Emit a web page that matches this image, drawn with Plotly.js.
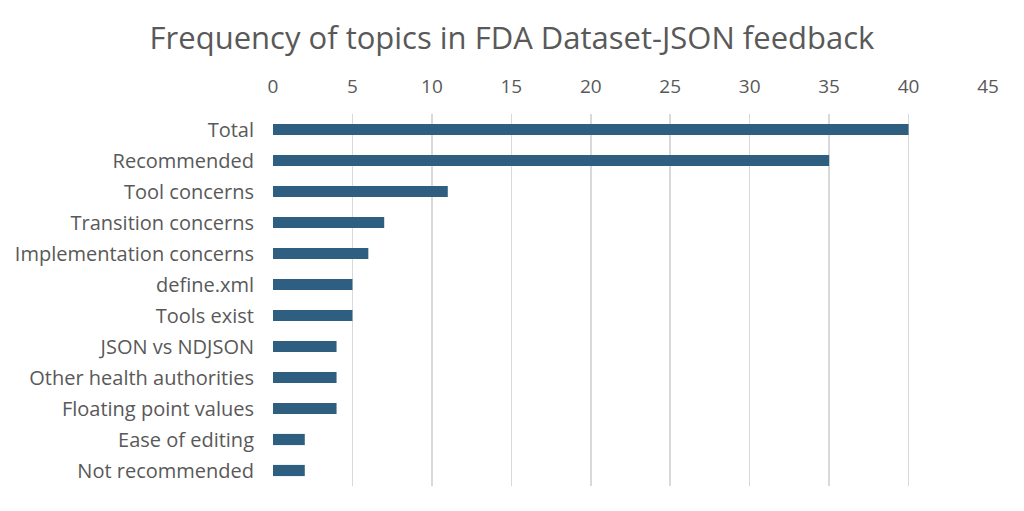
<!DOCTYPE html>
<html>
<head>
<meta charset="utf-8">
<script src="https://cdn.plot.ly/plotly-3.0.1.min.js"></script>
<style>
  html, body { margin: 0; padding: 0; background: #ffffff; }
  #chart { width: 1024px; height: 511px; }
</style>
</head>
<body>
<div id="chart"></div>
<script>
// Topics in the feedback, top to bottom as drawn
const topics = [
  'Total',
  'Recommended',
  'Tool concerns',
  'Transition concerns',
  'Implementation concerns',
  'define.xml',
  'Tools exist',
  'JSON vs NDJSON',
  'Other health authorities',
  'Floating point values',
  'Ease of editing',
  'Not recommended',
];
const counts = [40, 35, 11, 7, 6, 5, 5, 4, 4, 4, 2, 2];
const tickValues = [0, 5, 10, 15, 20, 25, 30, 35, 40, 45];

const textColor = '#595959';

const trace = {
  type: 'bar',
  orientation: 'h',
  x: counts,
  y: topics,
  marker: {
    color: '#2e5f80',
    line: { width: 0 },
  },
  hoverinfo: 'x+y',
};

const layout = {
  width: 1024,
  height: 511,
  paper_bgcolor: '#ffffff',
  plot_bgcolor: '#ffffff',
  font: { family: 'Open Sans, sans-serif', color: textColor },
  title: {
    text: 'Frequency of topics in FDA Dataset-JSON feedback',
    font: { size: 31, color: textColor },
    x: 0.5,
    xanchor: 'center',
    y: 0.925,
    yanchor: 'middle',
  },
  margin: { l: 273, r: 36, t: 114, b: 25, pad: 0 },
  bargap: 0.64,
  showlegend: false,
  xaxis: {
    side: 'top',
    range: [0, 45],
    tickvals: tickValues,
    ticktext: tickValues.map(String),
    showgrid: true,
    gridcolor: '#d9d9d9',
    gridwidth: 1.5,
    zeroline: false,
    showline: false,
    ticks: '',
    ticklabelstandoff: 16,
    tickfont: { size: 19, color: textColor },
    fixedrange: true,
  },
  yaxis: {
    autorange: 'reversed',
    showgrid: false,
    zeroline: false,
    showline: false,
    ticks: '',
    ticklabelstandoff: 18,
    tickfont: { size: 20, color: textColor },
    fixedrange: true,
  },
};

Plotly.newPlot('chart', [trace], layout, { displayModeBar: false, staticPlot: true });
</script>
</body>
</html>
